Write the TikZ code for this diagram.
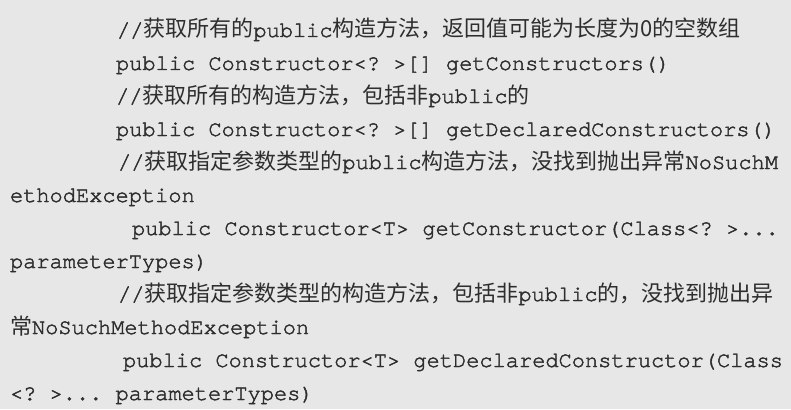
\documentclass[tikz,border=0pt]{standalone}
\usepackage{fontspec}
\setmonofont{texgyrecursor-regular.otf}[FakeBold=2]
\newfontfamily\cjk{Noto Sans CJK SC}
\newcommand{\zh}[1]{{\cjk #1}}
\definecolor{bgc}{HTML}{E7E7E7}
\definecolor{txc}{HTML}{2E2E2E}
\begin{document}
\begin{tikzpicture}[x=1pt,y=-1pt,
  codeline/.style={anchor=base west,inner sep=0pt,outer sep=0pt,text=txc,
    font=\fontsize{22}{26}\ttfamily}]
\fill[bgc] (0,0) rectangle (791,409);
\useasboundingbox (0,0) rectangle (791,409);
\node[codeline] (l1) at (117,37) {//\zh{获取所有的}public\zh{构造方法，返回值可能为长度为0的空数组}};
\node[codeline] (l2) at (116,70) {public Constructor<? >[] getConstructors()};
\node[codeline] (l3) at (116,103) {//\zh{获取所有的构造方法，包括非}public\zh{的}};
\node[codeline] (l4) at (116,136) {public Constructor<? >[] getDeclaredConstructors()};
\node[codeline] (l5) at (118,169) {//\zh{获取指定参数类型的}public\zh{构造方法，没找到抛出异常}NoSuchM};
\node[codeline] (l6) at (10,202) {ethodException};
\node[codeline] (l7) at (132,235) {public Constructor<T> getConstructor(Class<? >...};
\node[codeline] (l8) at (10,268) {parameterTypes)};
\node[codeline] (l9) at (118,301) {//\zh{获取指定参数类型的构造方法，包括非}public\zh{的，没找到抛出异}};
\node[codeline] (l10) at (10,334) {\zh{常}NoSuchMethodException};
\node[codeline] (l11) at (123,367) {public Constructor<T> getDeclaredConstructor(Class};
\node[codeline] (l12) at (10,400) {<? >... parameterTypes)};
\end{tikzpicture}
\end{document}
